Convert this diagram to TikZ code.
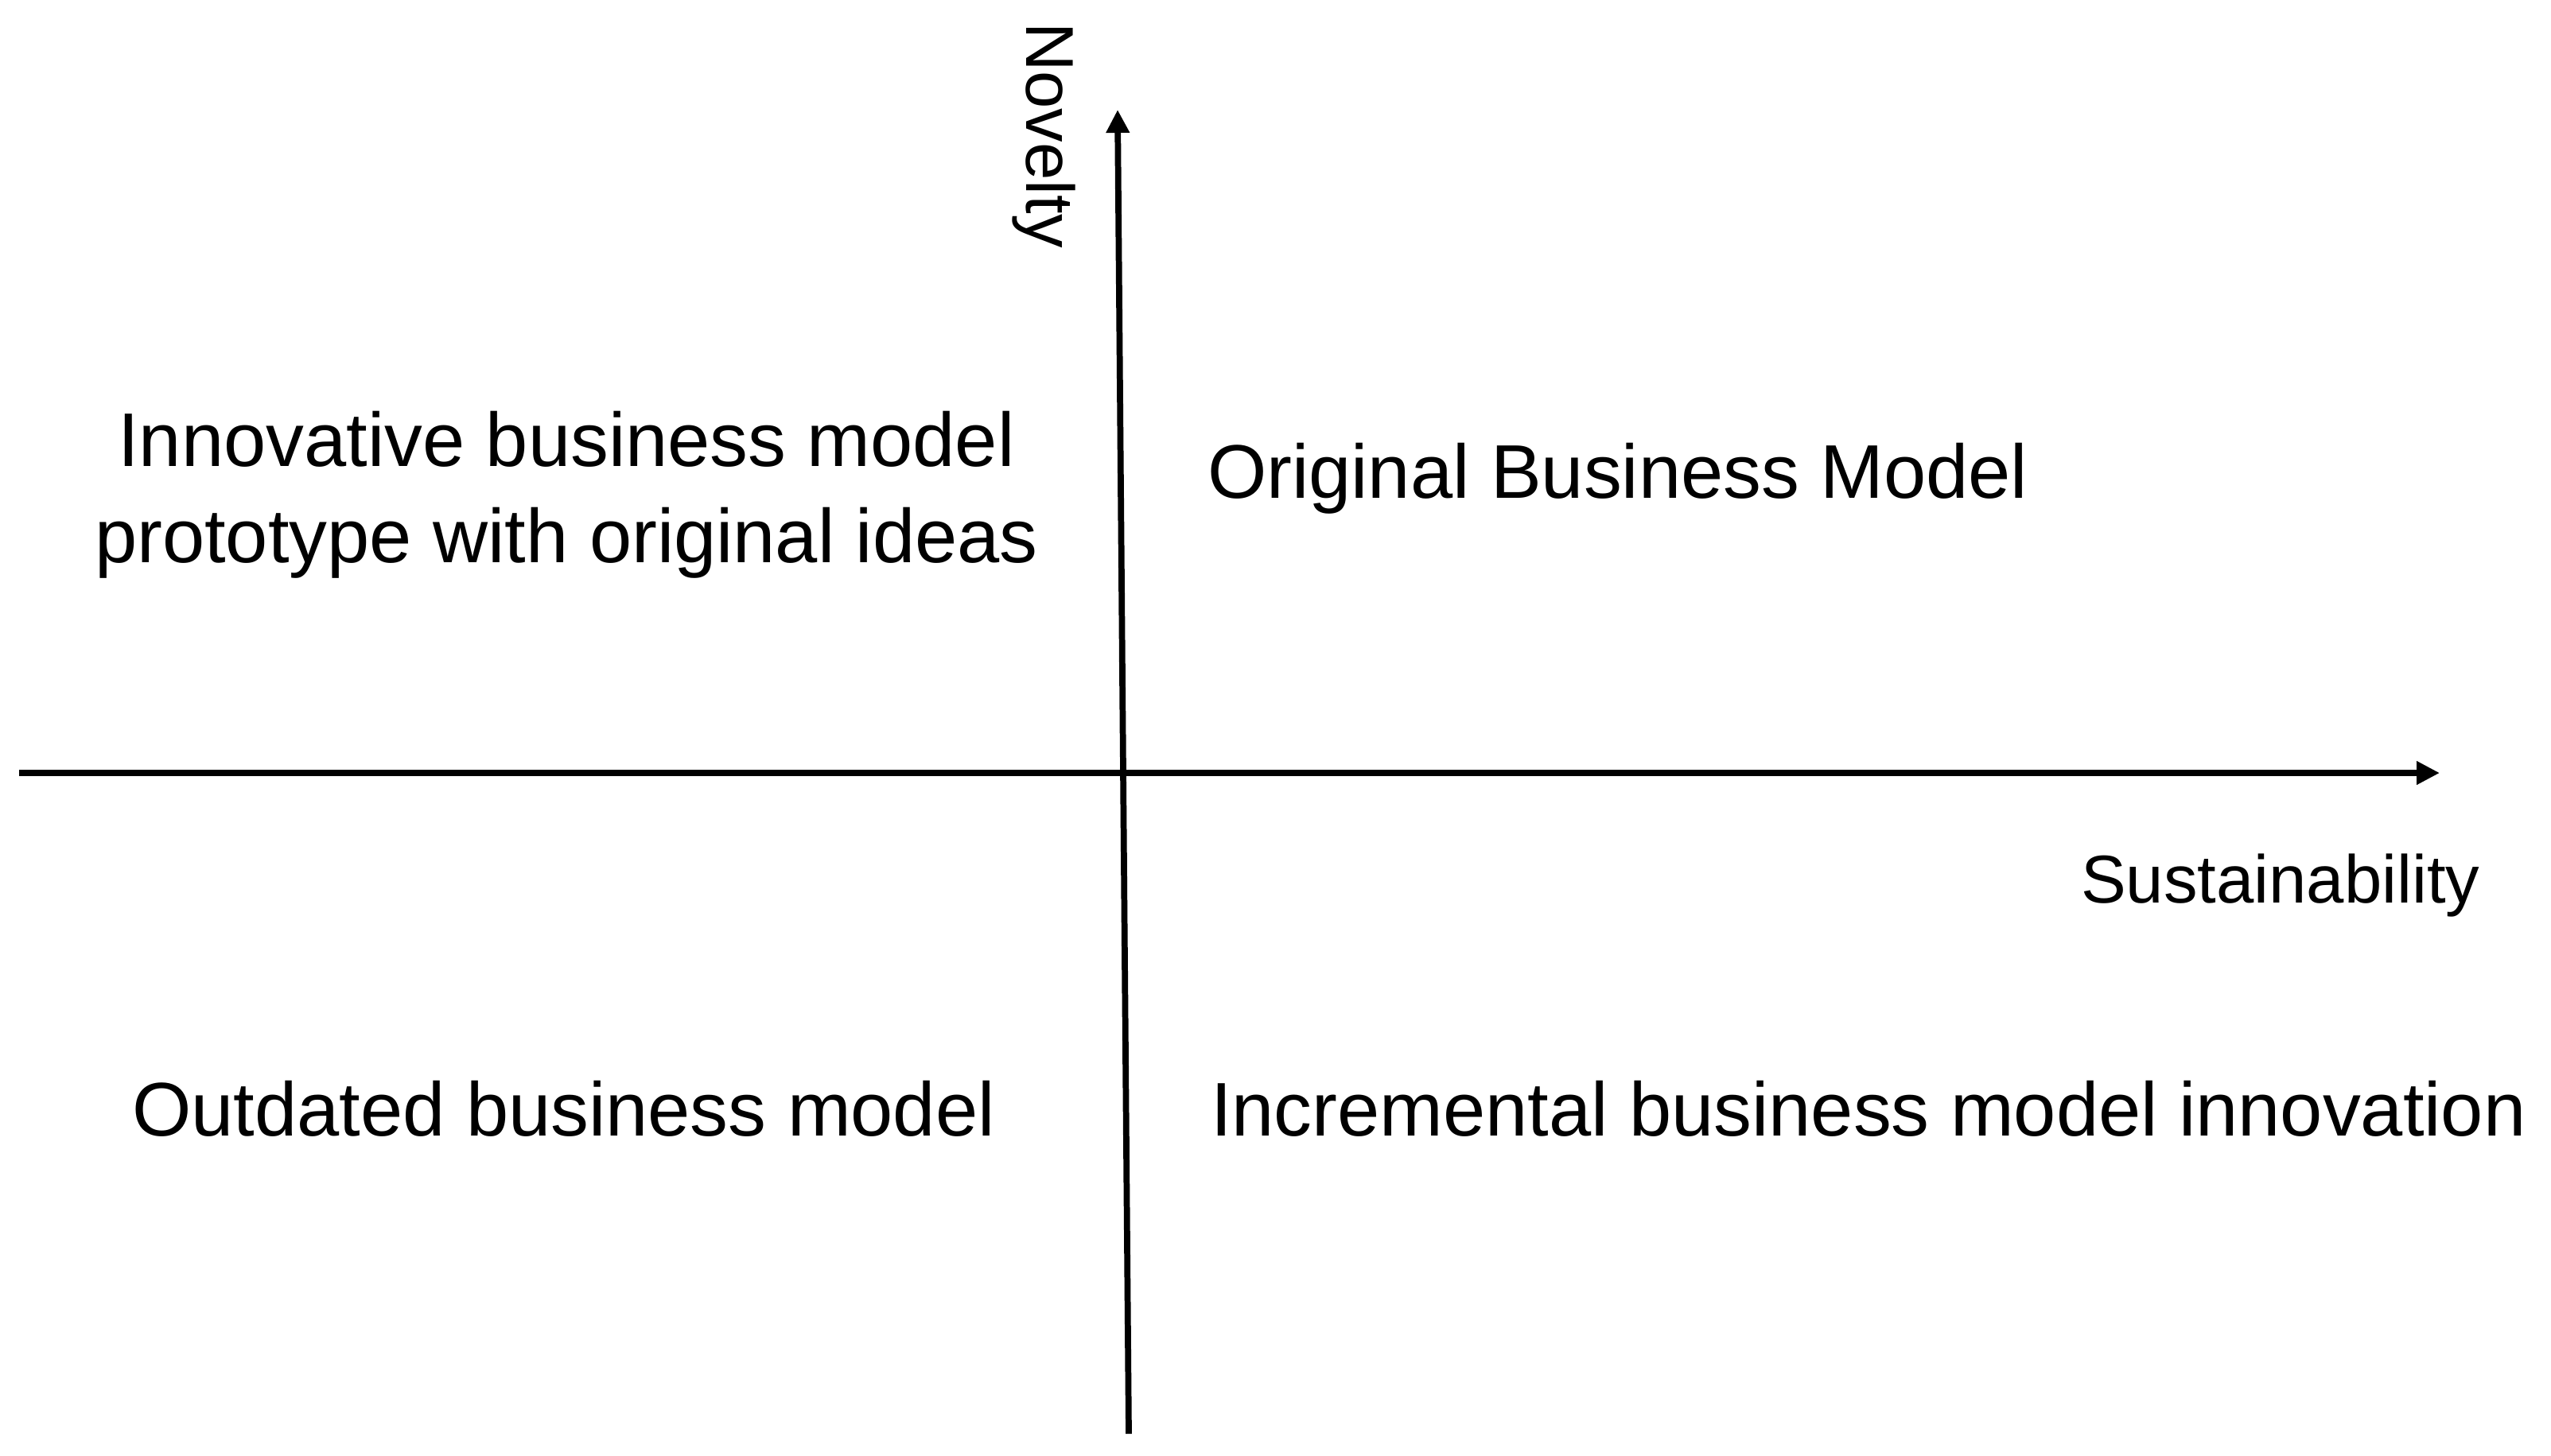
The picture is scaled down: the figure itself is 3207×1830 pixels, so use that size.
\documentclass[tikz,border=0pt]{standalone}
\usepackage{fontspec}
\setmainfont{Liberation Sans}
\usetikzlibrary{arrows.meta}
\tikzset{
        quadtext/.style = {inner sep=0pt, outer sep=0pt, align=center,
            font=\fontsize{27.2}{34.4}\selectfont},
        axistext/.style = {inner sep=0pt, outer sep=0pt,
            font=\fontsize{24.2}{29}\selectfont},
        axisline/.style = {line width=2.2pt, black,
            -{Triangle[length=0.29cm, width=0.28cm]}}
    }

\begin{document}
\begin{tikzpicture}[x=0.01cm, y=-0.01cm]
            \useasboundingbox (0,0) rectangle (3207,1830);
            % axis ends
            \coordinate (west) at (24,972);
            \coordinate (east) at (3067,972);
            \coordinate (south) at (1419,1803);
            \coordinate (north) at (1405,138);
            \draw [axisline] (west) -- (east);
            \draw [axisline] (south) -- (north);
            % axis labels
            \node [axistext, anchor=base west] (sust) at (2616,1135) {Sustainability};
            \node [axistext, anchor=base west, rotate=-90] (nov) at (1290,28) {Novelty};
            % quadrants
            \node [quadtext, anchor=base] (proto) at (712,707)
                {Innovative business model\\prototype with original ideas};
            \node [quadtext, anchor=base west] (orig) at (1518,626) {Original Business Model};
            \node [quadtext, anchor=base west] (outd) at (166,1428) {Outdated business model};
            \node [quadtext, anchor=base west] (incr) at (1522,1428) {Incremental business model innovation};
        \end{tikzpicture}
\end{document}
